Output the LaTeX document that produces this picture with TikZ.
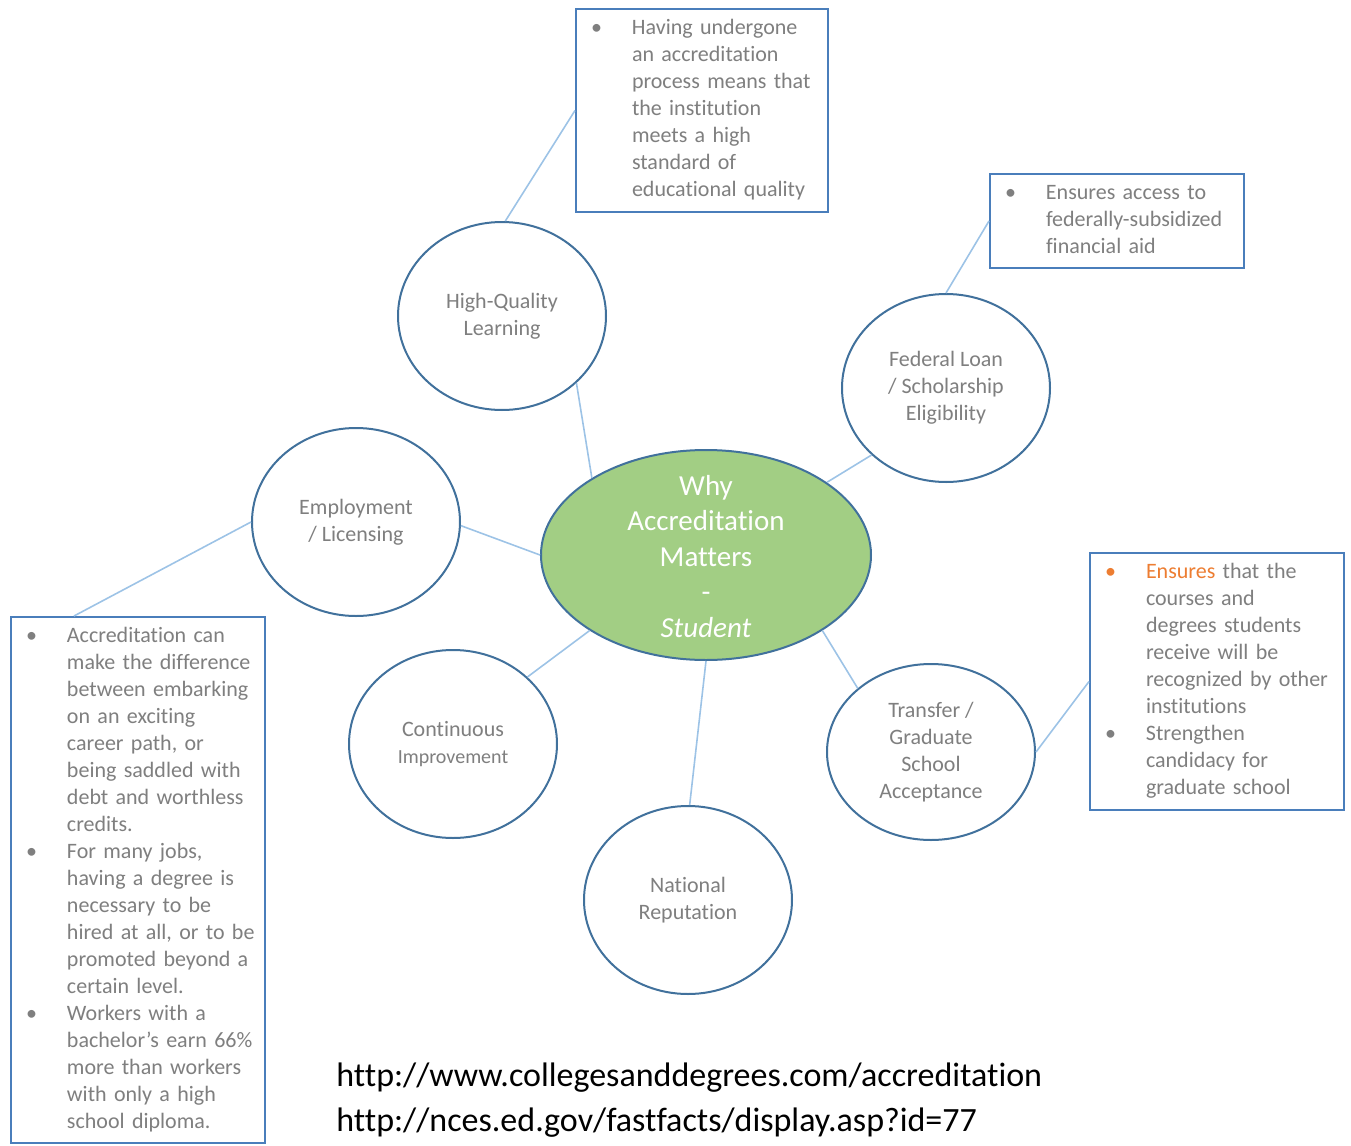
\documentclass[tikz,border=0pt]{standalone}
\usepackage{fontspec}
\setmainfont{Carlito}[Ligatures={TeX,NoCommon}]
\usetikzlibrary{shapes.geometric,calc}
\definecolor{txtg}{HTML}{7F7F7F}
\definecolor{circB}{HTML}{41719C}
\definecolor{boxB}{HTML}{4A7EBB}
\definecolor{conn}{HTML}{9DC3E6}
\definecolor{cgreen}{HTML}{A2CE84}
\definecolor{orng}{HTML}{ED7D31}
\tikzset{
  circ/.style={ellipse, draw=circB, line width=1pt, fill=white, inner sep=0pt,
    minimum width=104pt, minimum height=94pt, align=center, text=txtg,
    font=\fontsize{11}{13.5}\selectfont},
  mainell/.style={ellipse, draw=circB, line width=1pt, fill=cgreen, inner sep=0pt,
    minimum width=165pt, minimum height=105pt, text=white,
    font=\fontsize{14.5}{17.75}\selectfont},
  infobox/.style={rectangle, draw=boxB, line width=1pt, fill=white,
    inner xsep=7.5pt, inner ysep=0pt, align=left, text=txtg, text width=112pt,
    font=\fontsize{11}{13.5}\selectfont},
  link/.style={draw=conn, line width=0.8pt},
  urlstyle/.style={anchor=west, align=left, inner sep=0pt, text=black,
    font=\fontsize{17}{22.5}\selectfont}
}
\begin{document}
\begin{tikzpicture}[x=0.5pt,y=-0.5pt]
\useasboundingbox (0,0) rectangle (1351,1146);

% centre
\node[mainell] (main) at (706,555) {\smash{\raisebox{-5.6pt}{\begin{tabular}{@{}c@{}}Why\\Accreditation\\Matters\\-\\\textit{Student}\end{tabular}}}};

% satellites
\node[circ] (hql) at (502,316) {High-Quality\\Learning};
\node[circ] (fed) at (946,388) {Federal Loan\\/ Scholarship\\Eligibility};
\node[circ] (emp) at (356,522) {Employment\\/ Licensing};
\node[circ] (cont) at (453,744) {Continuous\\{\fontsize{10}{13.5}\selectfont Improvement}};
\node[circ] (nat) at (688,900) {National\\Reputation};
\node[circ, minimum height=88pt] (trans) at (931,752) {Transfer /\\Graduate\\School\\Acceptance};

% boxes
\node[infobox, text width=111pt, minimum height=101.5pt] (qbox) at (702,110.5) {%
\begin{tabular}{@{}p{20.5pt}@{}l@{}}
\textbullet & Having undergone\\
 & an accreditation\\
 & process means that\\
 & the institution\\
 & meets a high\\
 & standard of\\
 & educational quality
\end{tabular}};

\node[infobox, minimum height=47pt] (fbox) at (1117,221) {%
\begin{tabular}{@{}p{20.5pt}@{}l@{}}
\textbullet & Ensures access to\\
 & federally-subsidized\\
 & financial aid
\end{tabular}};

\node[infobox, minimum height=128.5pt] (tbox) at (1217,681.5) {%
\begin{tabular}{@{}p{20.5pt}@{}l@{}}
\textcolor{orng}{\textbullet} & \textcolor{orng}{Ensures} that the\\
 & courses and\\
 & degrees students\\
 & receive will be\\
 & recognized by other\\
 & institutions\\
\textbullet & Strengthen\\
 & candidacy for\\
 & graduate school
\end{tabular}};

\node[infobox, minimum height=263pt] (ebox) at (138,880) {%
\begin{tabular}{@{}p{20.5pt}@{}l@{}}
\textbullet & Accreditation can\\
 & make the difference\\
 & between embarking\\
 & on an exciting\\
 & career path, or\\
 & being saddled with\\
 & debt and worthless\\
 & credits.\\
\textbullet & For many jobs,\\
 & having a degree is\\
 & necessary to be\\
 & hired at all, or to be\\
 & promoted beyond a\\
 & certain level.\\
\textbullet & Workers with a\\
 & bachelor's earn 66\%\\
 & more than workers\\
 & with only a high\\
 & school diploma.
\end{tabular}};

% connectors
\draw[link] (hql.-42) -- (main.146);
\draw[link] (hql.88) -- (qbox.west);
\draw[link] (fed.222) -- (main.31.5);
\draw[link] (fed.north) -- (fbox.west);
\draw[link] (emp.-2) -- (main.180);
\draw[link] (emp.west) -- ($(ebox.north west)!0.25!(ebox.north east)$);
\draw[link] (cont.42) -- (main.213);
\draw[link] (nat.89) -- (main.-90);
\draw[link] (trans.139) -- (main.-33);
\draw[link] (trans.east) -- (tbox.west);

% references
\node[urlstyle] (urls) at (336,1100) {http://www.collegesanddegrees.com/accreditation\\http://nces.ed.gov/fastfacts/display.asp?id=77};
\end{tikzpicture}
\end{document}
